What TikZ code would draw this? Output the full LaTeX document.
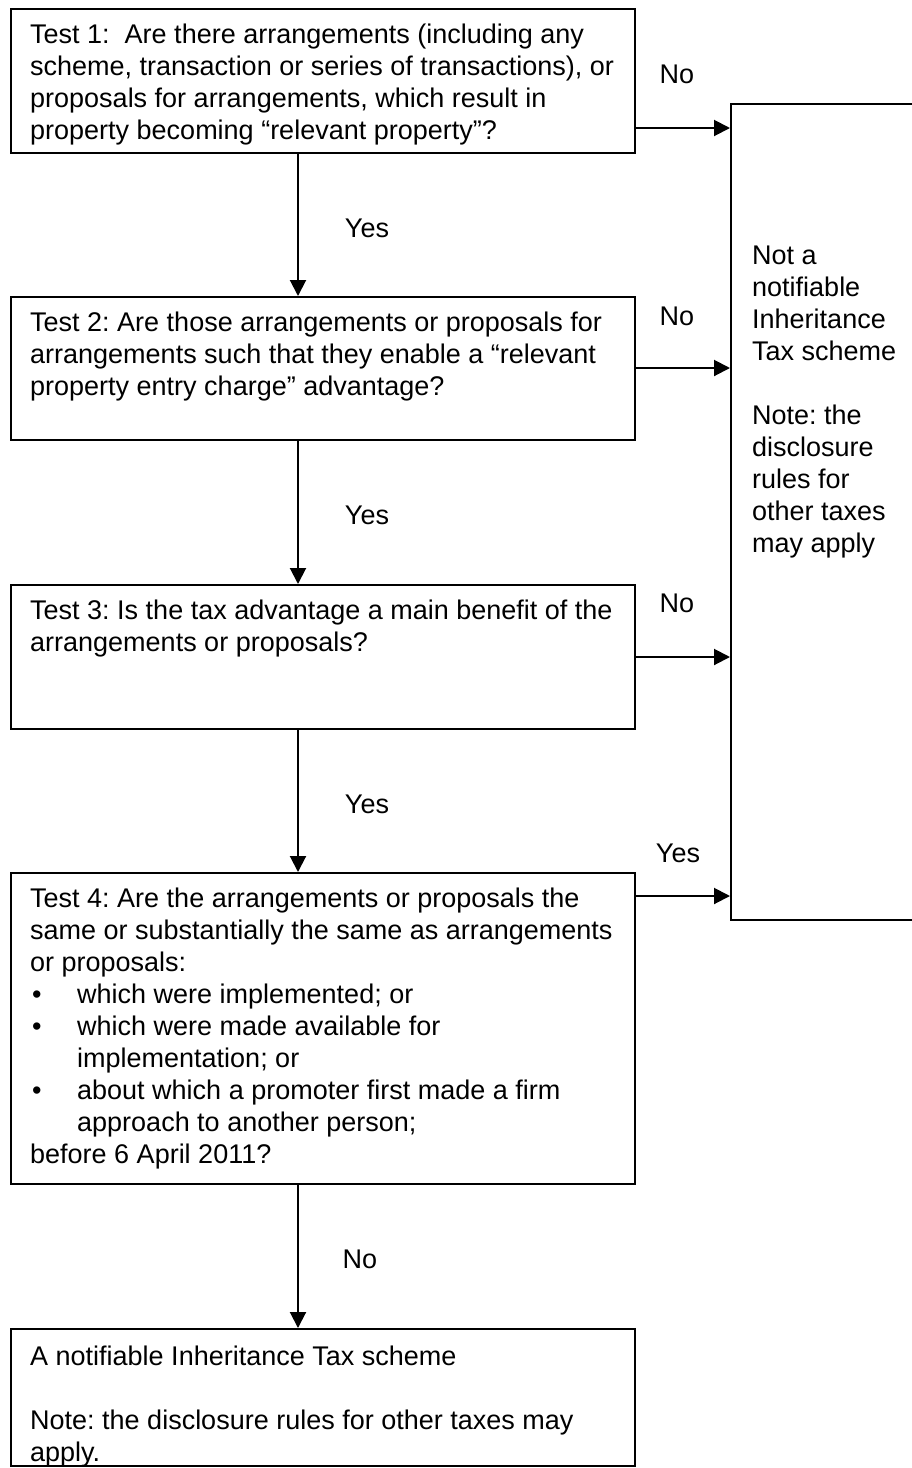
\documentclass[tikz,border=0pt]{standalone}
\usepackage{fontspec}
\setmainfont{Liberation Sans}
\frenchspacing
\usetikzlibrary{arrows.meta,calc}
\begin{document}
\begin{tikzpicture}[x=1pt,y=-1pt,
  every node/.style={font=\fontsize{27}{32}\selectfont},
  box/.style={draw, line width=2pt, rectangle, anchor=north west, inner sep=0pt},
  txt/.style={anchor=north west, inner sep=0pt, align=left},
  lbl/.style={anchor=base, inner sep=0pt},
  arr/.style={line width=2pt, -{Triangle[length=16pt,width=16pt]}}]
\useasboundingbox (0,0) rectangle (912,1468);
% boxes
\node[box, minimum width=624pt, minimum height=144pt] (b1) at (10,8) {};
\node[box, minimum width=624pt, minimum height=143pt] (b2) at (10,296) {};
\node[box, minimum width=624pt, minimum height=144pt] (b3) at (10,584) {};
\node[box, minimum width=624pt, minimum height=311pt] (b4) at (10,872) {};
\node[box, minimum width=624pt, minimum height=137pt] (b5) at (10,1328) {};
\node[box, minimum width=215pt, minimum height=816pt] (nb) at (730,103) {};
% texts
\node[txt] (t1) at (30,20.6) {\strut Test 1:\ \ Are there arrangements (including any\\
scheme, transaction or series of transactions), or\\
proposals for arrangements, which result in\\
property becoming “relevant property”?};
\node[txt] (t2) at (30,308.6) {\strut Test 2: Are those arrangements or proposals for\\
arrangements such that they enable a “relevant\\
property entry charge” advantage?};
\node[txt] (t3) at (30,596.6) {\strut Test 3: Is the tax advantage a main benefit of the\\
arrangements or proposals?};
\node[txt] (t4) at (30,884.6) {\strut Test 4: Are the arrangements or proposals the\\
same or substantially the same as arrangements\\
or proposals:\\
\makebox[47pt][l]{\hspace{2pt}•}which were implemented; or\\
\makebox[47pt][l]{\hspace{2pt}•}which were made available for\\
\hspace*{47pt}implementation; or\\
\makebox[47pt][l]{\hspace{2pt}•}about which a promoter first made a firm\\
\hspace*{47pt}approach to another person;\\
before 6 April 2011?};
\node[txt] (t5) at (30,1342.6) {\strut A notifiable Inheritance Tax scheme\\
\mbox{}\\
Note: the disclosure rules for other taxes may\\
apply.};
\node[txt] (tn) at (752,241.6) {\strut Not a\\
notifiable\\
Inheritance\\
Tax scheme\\
\mbox{}\\
Note: the\\
disclosure\\
rules for\\
other taxes\\
may apply};
% connector helpers
\coordinate (ax) at (298,0);
\coordinate (y1) at (0,128);
\coordinate (y2) at (0,368);
\coordinate (y3) at (0,657);
\coordinate (y4) at (0,896);
% vertical arrows
\draw[arr] (b1.south -| ax) -- (b2.north -| ax);
\draw[arr] (b2.south -| ax) -- (b3.north -| ax);
\draw[arr] (b3.south -| ax) -- (b4.north -| ax);
\draw[arr] (b4.south -| ax) -- (b5.north -| ax);
% horizontal arrows
\draw[arr] (b1.east |- y1) -- (nb.west |- y1);
\draw[arr] (b2.east |- y2) -- (nb.west |- y2);
\draw[arr] (b3.east |- y3) -- (nb.west |- y3);
\draw[arr] (b4.east |- y4) -- (nb.west |- y4);
% labels
\node[lbl] (l1) at (677,83) {No};
\node[lbl] (l2) at (367,237) {Yes};
\node[lbl] (l3) at (677,325) {No};
\node[lbl] (l4) at (367,524) {Yes};
\node[lbl] (l5) at (677,612) {No};
\node[lbl] (l6) at (367,813) {Yes};
\node[lbl] (l7) at (678,862) {Yes};
\node[lbl] (l8) at (360,1268) {No};
\end{tikzpicture}
\end{document}
